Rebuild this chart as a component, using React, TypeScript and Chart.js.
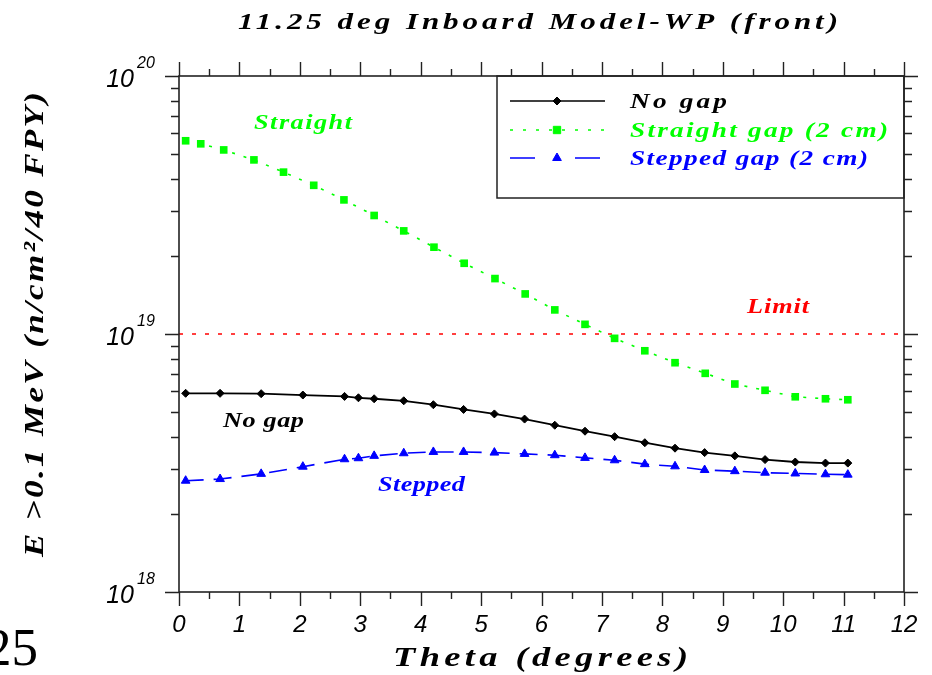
import React, { useEffect, useRef } from "react";
import { Chart, registerables } from "chart.js";

Chart.register(...registerables);

// ---------- data ----------
const xTickValues = [0, 1, 2, 3, 4, 5, 6, 7, 8, 9, 10, 11, 12];
const yDecades = [18, 19, 20];

const noGapTheta = [0.11, 0.68, 1.36, 2.05, 2.74, 2.97, 3.23, 3.72, 4.21, 4.71, 5.22, 5.72, 6.22, 6.72, 7.21, 7.71, 8.21, 8.7, 9.2, 9.7, 10.2, 10.7, 11.07];
const noGapFlux = [5.89e18, 5.89e18, 5.87e18, 5.8e18, 5.73e18, 5.66e18, 5.61e18, 5.51e18, 5.32e18, 5.1e18, 4.9e18, 4.68e18, 4.43e18, 4.2e18, 4.0e18, 3.79e18, 3.61e18, 3.47e18, 3.37e18, 3.26e18, 3.19e18, 3.16e18, 3.16e18];

const straightTheta = [0.11, 0.36, 0.74, 1.24, 1.73, 2.23, 2.73, 3.23, 3.72, 4.22, 4.72, 5.23, 5.73, 6.22, 6.72, 7.21, 7.71, 8.21, 8.71, 9.2, 9.7, 10.2, 10.7, 11.07];
const straightFlux = [5.61e19, 5.46e19, 5.17e19, 4.73e19, 4.24e19, 3.77e19, 3.31e19, 2.88e19, 2.51e19, 2.17e19, 1.88e19, 1.64e19, 1.43e19, 1.24e19, 1.09e19, 9.62e18, 8.61e18, 7.74e18, 7.04e18, 6.4e18, 6.05e18, 5.71e18, 5.61e18, 5.56e18];

const steppedTheta = [0.11, 0.68, 1.36, 2.05, 2.74, 2.97, 3.23, 3.72, 4.21, 4.71, 5.22, 5.72, 6.22, 6.72, 7.21, 7.71, 8.21, 8.7, 9.2, 9.7, 10.2, 10.7, 11.07];
const steppedFlux = [2.7e18, 2.74e18, 2.87e18, 3.06e18, 3.27e18, 3.3e18, 3.37e18, 3.45e18, 3.49e18, 3.49e18, 3.47e18, 3.43e18, 3.39e18, 3.31e18, 3.24e18, 3.13e18, 3.07e18, 2.97e18, 2.94e18, 2.9e18, 2.88e18, 2.86e18, 2.85e18];

const limitTheta = [0, 12];
const limitFlux = [1e19, 1e19];

const seriesLabels = ["No gap", "Straight gap (2 cm)", "Stepped gap (2 cm)"];
const titleText = "11.25 deg Inboard Model-WP (front)";
const xTitle = "Theta (degrees)";
const yTitle = "E >0.1 MeV (n/cm²/40 FPY)";

const BLACK = "#000000";
const GREEN = "#00ff00";
const BLUE = "#0000ff";
const RED = "#ff0000";

const SERIF = '"Liberation Serif", serif';
const SANS = '"Liberation Sans", Arial, sans-serif';

function pts(xs: number[], ys: number[]) {
  return xs.map((x, i) => ({ x, y: ys[i] }));
}

// draw text spanning a given width: glyphs are widened (up to maxStretch), rest goes to letter spacing
function fitText(ctx: CanvasRenderingContext2D, text: string, x: number, y: number, width: number, align: "left" | "center" | "right" = "left", maxStretch = 1.3) {
  const chars = Array.from(text);
  const nat = ctx.measureText(text).width;
  const sx = Math.max(0.8, Math.min(maxStretch, width / nat));
  const gap = chars.length > 1 ? (width / sx - nat) / (chars.length - 1) : 0;
  const start = align === "left" ? x : align === "center" ? x - width / 2 : x - width;
  ctx.save();
  ctx.translate(start, y);
  ctx.scale(sx, 1);
  ctx.textAlign = "left";
  const anyCtx = ctx as any;
  if ("letterSpacing" in anyCtx) {
    anyCtx.letterSpacing = gap + "px";
    ctx.fillText(text, 0, 0);
    anyCtx.letterSpacing = "0px";
  } else {
    let cx = 0;
    for (const c of chars) {
      ctx.fillText(c, cx, 0);
      cx += ctx.measureText(c).width + gap;
    }
  }
  ctx.restore();
}

function marker(ctx: CanvasRenderingContext2D, style: string, x: number, y: number, r: number, color: string) {
  ctx.save();
  ctx.setLineDash([]);
  ctx.fillStyle = color;
  ctx.strokeStyle = color;
  ctx.beginPath();
  if (style === "rectRot") {
    ctx.moveTo(x - r, y);
    ctx.lineTo(x, y - r);
    ctx.lineTo(x + r, y);
    ctx.lineTo(x, y + r);
  } else if (style === "rect") {
    const s = Math.SQRT1_2 * r;
    ctx.rect(x - s, y - s, 2 * s, 2 * s);
  } else {
    ctx.moveTo(x, y - r);
    ctx.lineTo(x + r * Math.sin((2 * Math.PI) / 3), y - r * Math.cos((2 * Math.PI) / 3));
    ctx.lineTo(x + r * Math.sin((4 * Math.PI) / 3), y - r * Math.cos((4 * Math.PI) / 3));
  }
  ctx.closePath();
  ctx.fill();
  ctx.lineWidth = 1;
  ctx.stroke();
  ctx.restore();
}

const decor = {
  id: "decor",
  beforeDraw(chart: any) {
    const ctx = chart.ctx;
    ctx.save();
    ctx.fillStyle = "#ffffff";
    ctx.fillRect(0, 0, chart.width, chart.height);
    ctx.restore();
  },
  afterDraw(chart: any) {
    const ctx: CanvasRenderingContext2D = chart.ctx;
    const xs = chart.scales.x;
    const ys = chart.scales.y;
    const { left, right, top, bottom } = chart.chartArea;
    ctx.save();

    // legend box
    const lbL = 497, lbT = top, lbR = right, lbB = 198;
    ctx.strokeStyle = "#222";
    ctx.lineWidth = 1.5;
    ctx.strokeRect(lbL, lbT, lbR - lbL, lbB - lbT);

    // frame
    ctx.strokeStyle = "#222";
    ctx.lineWidth = 1.6;
    ctx.strokeRect(left, top, right - left, bottom - top);

    // x ticks (bottom and top, outward)
    ctx.lineWidth = 1.4;
    ctx.beginPath();
    for (let i = 0; i <= 24; i++) {
      const v = i / 2;
      const px = Math.round(xs.getPixelForValue(v)) + 0.5;
      const len = i % 2 === 0 ? 14 : 7;
      ctx.moveTo(px, bottom);
      ctx.lineTo(px, bottom + len);
      ctx.moveTo(px, top);
      ctx.lineTo(px, top - len);
    }
    // y ticks (left and right, outward)
    for (const d of yDecades) {
      for (let m = 1; m <= 9; m++) {
        if (d === yDecades[yDecades.length - 1] && m > 1) break;
        const py = Math.round(ys.getPixelForValue(m * Math.pow(10, d))) + 0.5;
        const len = m === 1 ? 14 : 8;
        ctx.moveTo(left - len, py);
        ctx.lineTo(left, py);
        ctx.moveTo(right, py);
        ctx.lineTo(right + len, py);
      }
    }
    ctx.stroke();

    // y tick labels with superscripts
    ctx.fillStyle = BLACK;
    for (const d of yDecades) {
      const py = ys.getPixelForValue(Math.pow(10, d));
      ctx.font = `italic 25px ${SANS}`;
      ctx.textAlign = "right";
      ctx.textBaseline = "alphabetic";
      ctx.fillText("10", 134, py + 11);
      ctx.font = `italic 16px ${SANS}`;
      ctx.textAlign = "left";
      ctx.fillText(String(d), 137, py - 8);
    }

    // title
    ctx.textBaseline = "alphabetic";
    ctx.fillStyle = BLACK;
    ctx.font = `italic bold 23px ${SERIF}`;
    fitText(ctx, titleText, 238, 29, 600, "left", 1.35);

    // x title
    ctx.font = `italic bold 28px ${SERIF}`;
    fitText(ctx, xTitle, 393, 666, 295, "left", 1.3);

    // y title (rotated)
    ctx.save();
    ctx.translate(43, 324.5);
    ctx.rotate(-Math.PI / 2);
    ctx.font = `italic bold 28px ${SERIF}`;
    fitText(ctx, yTitle, 0, 0, 465, "center", 1.25);
    ctx.restore();

    // annotations
    ctx.font = `italic bold 21px ${SERIF}`;
    ctx.fillStyle = GREEN;
    fitText(ctx, "Straight", 254, 129, 98, "left", 1.25);
    ctx.fillStyle = BLACK;
    fitText(ctx, "No gap", 223, 427, 81, "left", 1.25);
    ctx.fillStyle = BLUE;
    fitText(ctx, "Stepped", 378, 491, 87, "left", 1.25);
    ctx.fillStyle = RED;
    fitText(ctx, "Limit", 747, 313, 62, "left", 1.25);

    // legend entries
    const rows = [
      { y: 101, color: BLACK, dash: [] as number[], style: "rectRot", r: 4, w: 97, base: 108 },
      { y: 130, color: GREEN, dash: [3, 10], style: "rect", r: 5.2, w: 258, base: 137 },
      { y: 158, color: BLUE, dash: [25, 40], style: "triangle", r: 5, w: 238, base: 165 },
    ];
    rows.forEach((row, i) => {
      ctx.save();
      ctx.strokeStyle = row.color;
      ctx.lineWidth = 1.6;
      ctx.setLineDash(row.dash);
      ctx.beginPath();
      ctx.moveTo(510, row.y);
      ctx.lineTo(605, row.y);
      ctx.stroke();
      ctx.restore();
      marker(ctx, row.style, 557, row.y, row.r, row.color);
      ctx.fillStyle = row.color;
      ctx.font = `italic bold 21px ${SERIF}`;
      fitText(ctx, seriesLabels[i], 630, row.base, row.w, "left", 1.3);
    });

    // stray page number at lower-left
    ctx.fillStyle = BLACK;
    ctx.font = `53px "Liberation Serif", serif`;
    ctx.textAlign = "right";
    ctx.fillText("25", 38, 665);

    ctx.restore();
  },
};

export default function App() {
  const ref = useRef<HTMLCanvasElement | null>(null);

  useEffect(() => {
    if (!ref.current) return;
    const chart = new Chart(ref.current, {
      type: "line",
      data: {
        datasets: [
          {
            label: seriesLabels[0],
            data: pts(noGapTheta, noGapFlux),
            borderColor: BLACK,
            backgroundColor: BLACK,
            borderWidth: 1.8,
            pointStyle: "rectRot",
            pointRadius: 4,
            pointBorderWidth: 1,
            pointBackgroundColor: BLACK,
            pointBorderColor: BLACK,
          },
          {
            label: seriesLabels[1],
            data: pts(straightTheta, straightFlux),
            borderColor: GREEN,
            backgroundColor: GREEN,
            borderWidth: 1.6,
            borderDash: [3, 9],
            pointStyle: "rect",
            pointRadius: 5.4,
            pointBorderWidth: 0,
            pointBackgroundColor: GREEN,
          },
          {
            label: seriesLabels[2],
            data: pts(steppedTheta, steppedFlux),
            borderColor: BLUE,
            backgroundColor: BLUE,
            borderWidth: 1.6,
            borderDash: [18, 10],
            pointStyle: "triangle",
            pointRadius: 5,
            pointBorderWidth: 1,
            pointBackgroundColor: BLUE,
            pointBorderColor: BLUE,
          },
          {
            label: "Limit",
            data: pts(limitTheta, limitFlux),
            borderColor: RED,
            borderWidth: 1.5,
            borderDash: [4, 9],
            pointRadius: 0,
          },
        ],
      },
      options: {
        animation: false,
        responsive: false,
        maintainAspectRatio: false,
        devicePixelRatio: 1,
        layout: { padding: { top: 76, right: 28, left: 0, bottom: 0 } },
        plugins: {
          legend: { display: false },
          title: { display: false },
          tooltip: { enabled: false },
        },
        scales: {
          x: {
            type: "linear",
            position: "bottom",
            min: 0,
            max: 12,
            afterFit: (s: any) => {
              s.height = 83;
              s.paddingLeft = 0;
              s.paddingRight = 0;
            },
            afterBuildTicks: (s: any) => {
              s.ticks = xTickValues.map((v) => ({ value: v }));
            },
            grid: { display: false, drawTicks: false },
            border: { display: false },
            ticks: {
              padding: 19,
              color: BLACK,
              maxRotation: 0,
              autoSkip: false,
              font: { family: "Liberation Sans", size: 24, style: "italic" },
              callback: (v: any) => String(v),
            },
          },
          y: {
            type: "logarithmic",
            position: "left",
            min: 1e18,
            max: 1e20,
            afterFit: (s: any) => {
              s.width = 179;
              s.paddingTop = 0;
              s.paddingBottom = 0;
            },
            grid: { display: false, drawTicks: false },
            border: { display: false },
            ticks: { display: false },
          },
        },
      } as any,
      plugins: [decor],
    });
    return () => chart.destroy();
  }, []);

  return (
    <div style={{ position: "absolute", left: 0, top: 0, width: 932, height: 675 }}>
      <canvas ref={ref} width={932} height={675} style={{ display: "block", width: 932, height: 675 }} />
    </div>
  );
}
